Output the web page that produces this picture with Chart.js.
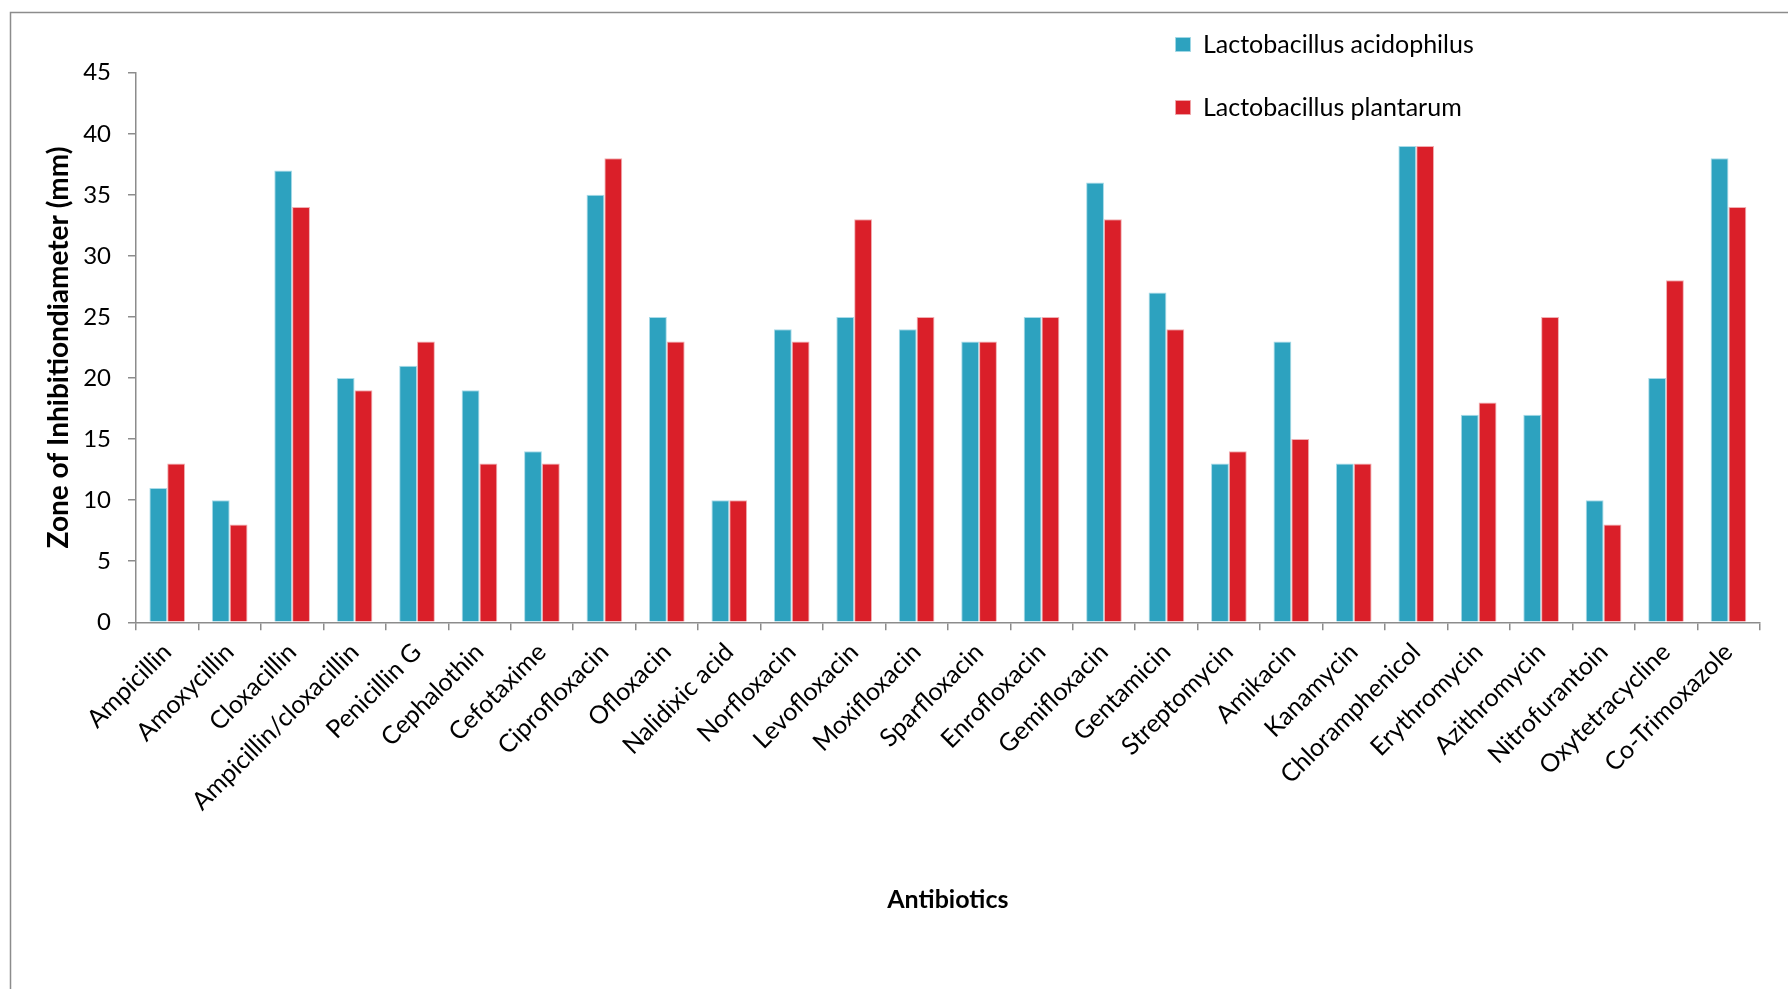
<!DOCTYPE html>
<html>
<head>
<meta charset="utf-8">
<title>Zone of inhibition by antibiotic</title>
<script src="https://cdn.jsdelivr.net/npm/chart.js@4.4.1/dist/chart.umd.min.js"></script>
<style>
  html, body { margin: 0; padding: 0; background: #ffffff; }
  #wrap { width: 1788px; height: 989px; position: relative; }
</style>
</head>
<body>
<div id="wrap"><canvas id="chart" width="1788" height="989"></canvas></div>
<script>
// Antibiotics tested
const antibiotics = [
  'Ampicillin', 'Amoxycillin', 'Cloxacillin', 'Ampicillin/cloxacillin', 'Penicillin G',
  'Cephalothin', 'Cefotaxime', 'Ciprofloxacin', 'Ofloxacin', 'Nalidixic acid',
  'Norfloxacin', 'Levofloxacin', 'Moxifloxacin', 'Sparfloxacin', 'Enrofloxacin',
  'Gemifloxacin', 'Gentamicin', 'Streptomycin', 'Amikacin', 'Kanamycin',
  'Chloramphenicol', 'Erythromycin', 'Azithromycin', 'Nitrofurantoin', 'Oxytetracycline',
  'Co-Trimoxazole'
];

// Zone of inhibition diameter (mm)
const acidophilus = [11, 10, 37, 20, 21, 19, 14, 35, 25, 10, 24, 25, 24, 23, 25, 36, 27, 13, 23, 13, 39, 17, 17, 10, 20, 38];
const plantarum   = [13, 8, 34, 19, 23, 13, 13, 38, 23, 10, 23, 33, 25, 23, 25, 33, 24, 14, 15, 13, 39, 18, 25, 8, 28, 34];

// Value axis ticks
const yTicks = [0, 5, 10, 15, 20, 25, 30, 35, 40, 45];

const FONT = 'Lato, "Open Sans", sans-serif';
const AXIS_GREY = '#8c8c8c';

// Outer frame of the figure
const framePlugin = {
  id: 'frame',
  beforeDraw(chart) {
    const ctx = chart.ctx;
    ctx.save();
    ctx.fillStyle = '#ffffff';
    ctx.fillRect(0, 0, chart.width, chart.height);
    ctx.strokeStyle = AXIS_GREY;
    ctx.lineWidth = 1.5;
    ctx.strokeRect(10.5, 12.5, chart.width + 20, chart.height + 20);
    ctx.restore();
  }
};

// Stacked legend in the upper right part of the plot
const legendSpot = {
  id: 'legendSpot',
  afterLayout(chart) {
    const lg = chart.legend;
    if (!lg) return;
    const o = lg.options.labels;
    const fs = o.font.size;
    const pad = o.padding;
    const boxLeft = 1203 - o.boxWidth - fs / 2;
    const boxTop = 37.5;
    const w = lg.width, h = lg.height;
    lg.left = boxLeft - pad;
    lg.top = boxTop - pad - Math.max((fs - o.boxHeight) / 2, 0);
    lg.right = lg.left + w;
    lg.bottom = lg.top + h;
  }
};

new Chart(document.getElementById('chart'), {
  type: 'bar',
  data: {
    labels: antibiotics,
    datasets: [
      {
        label: 'Lactobacillus acidophilus',
        data: acidophilus,
        backgroundColor: '#2da2bf',
        borderColor: 'rgba(160, 215, 230, 0.9)',
        borderWidth: 1
      },
      {
        label: 'Lactobacillus plantarum',
        data: plantarum,
        backgroundColor: '#da1f29',
        borderColor: 'rgba(240, 165, 170, 0.9)',
        borderWidth: 1
      }
    ]
  },
  options: {
    responsive: false,
    animation: false,
    devicePixelRatio: 1,
    categoryPercentage: 2 / 3.5,
    barPercentage: 1,
    layout: { padding: { left: 10, top: 72.7, right: 28.3, bottom: 0 } },
    plugins: {
      tooltip: { enabled: false },
      legend: {
        display: true,
        position: 'chartArea',
        align: 'start',
        labels: {
          boxWidth: 15,
          boxHeight: 14,
          padding: 38,
          color: '#000000',
          font: { family: FONT, size: 25 }
        }
      }
    },
    scales: {
      x: {
        afterFit(scale) { scale.height = 366.7; },
        grid: {
          display: true,
          offset: true,
          drawOnChartArea: false,
          drawTicks: true,
          tickLength: 8,
          color: AXIS_GREY,
          lineWidth: 1.5
        },
        border: { display: true, color: AXIS_GREY, width: 1.5 },
        ticks: {
          autoSkip: false,
          maxRotation: 45,
          minRotation: 45,
          padding: 7,
          color: '#000000',
          font: { family: FONT, size: 25 }
        },
        title: {
          display: true,
          text: 'Antibiotics',
          color: '#000000',
          font: { family: FONT, size: 25, weight: 'bold' },
          padding: { top: 0, bottom: 74 }
        }
      },
      y: {
        min: 0,
        max: 45,
        afterFit(scale) { scale.width = 126; },
        afterBuildTicks(scale) { scale.ticks = yTicks.map(v => ({ value: v })); },
        grid: {
          display: true,
          drawOnChartArea: false,
          drawTicks: true,
          tickLength: 8,
          color: AXIS_GREY,
          lineWidth: 1.5
        },
        border: { display: true, color: AXIS_GREY, width: 1.5 },
        ticks: {
          padding: 17,
          color: '#000000',
          font: { family: FONT, size: 24 }
        },
        title: {
          display: true,
          text: 'Zone of Inhibitiondiameter (mm)',
          color: '#000000',
          font: { family: FONT, size: 28, weight: 'bold' },
          padding: { top: 32, bottom: 0 }
        }
      }
    }
  },
  plugins: [framePlugin, legendSpot]
});
</script>
</body>
</html>
